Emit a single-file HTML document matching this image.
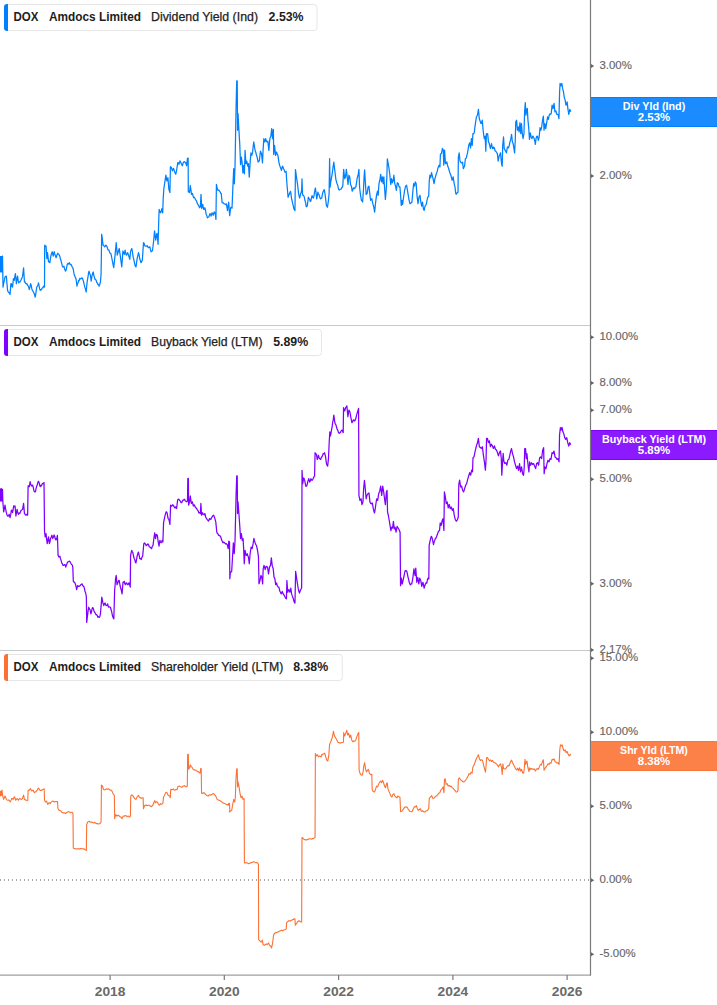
<!DOCTYPE html>
<html lang="en"><head><meta charset="utf-8"><title>DOX Amdocs Limited - Yields</title>
<style>
html,body{margin:0;padding:0;background:#fff;}
body{width:717px;height:1005px;overflow:hidden;font-family:"Liberation Sans",Arial,sans-serif;}
svg{display:block;}
text{font-family:"Liberation Sans",Arial,sans-serif;}
.al{font-size:11.4px;fill:#666666;stroke:#666666;stroke-width:0.15px;}
.yr{font-size:11.9px;font-weight:bold;fill:#6a6a6a;}
.lg{font-size:12.3px;fill:#222;stroke:#222;stroke-width:0.25px;}
.lgb{font-size:12.3px;font-weight:bold;fill:#1d1d1d;}
.tag{font-size:11px;font-weight:bold;fill:#fff;text-anchor:middle;}
</style></head><body>
<svg width="717" height="1005" viewBox="0 0 717 1005">
<rect width="717" height="1005" fill="#fff"/>
<line x1="0" y1="325.5" x2="590" y2="325.5" stroke="#c8c8c8" stroke-width="1"/>
<line x1="0" y1="650.5" x2="590" y2="650.5" stroke="#c8c8c8" stroke-width="1"/>
<line x1="0" y1="880" x2="590" y2="880" stroke="#555" stroke-width="1" stroke-dasharray="1 3"/>
<path d="M0,256.07 L0.33,271.97 L0.67,256.9 L1,271.13 L1.34,256.57 L1.67,271.97 L2.01,256.9 L2.51,256.07 L3.01,287.03 L3.68,283.21 L4.35,280.42 L5.02,276.99 L5.69,276.34 L6.36,276.15 L7.53,290.38 L8.16,291.61 L8.79,292.7 L9.41,292.73 L10.04,294.56 L10.88,283.68 L11.44,283.92 L11.99,286.52 L12.55,287.03 L13.39,278.66 L14.23,280.33 L14.82,276.55 L15.4,273.64 L16.4,283.68 L16.98,279.44 L17.57,276.15 L18.16,280.39 L18.74,282.85 L19.47,281.96 L20.19,281.78 L20.92,280.33 L21.48,278.89 L22.03,277.79 L22.59,276.15 L23.6,267.78 L24.44,282.01 L25.03,281.8 L25.61,283.09 L26.2,283.92 L26.78,283.68 L27.34,284.56 L27.89,285.79 L28.45,286.19 L29.29,289.54 L29.96,286.92 L30.63,283.68 L31.21,285.41 L31.8,288.7 L32.36,290.28 L32.91,291.1 L33.47,292.05 L34.03,293.37 L34.59,294.55 L35.15,297.07 L35.71,294.38 L36.26,290.33 L36.82,287.03 L37.38,286.03 L37.93,284.93 L38.49,282.85 L39.05,285.75 L39.61,288.63 L40.17,290.38 L40.73,289.63 L41.28,289.8 L41.84,288.7 L42.4,287.76 L42.95,287.81 L43.51,286.19 L44.52,287.03 L44.69,245.19 L45.36,246.29 L46.03,246.03 L46.86,258.58 L47.53,252.72 L48.54,261.92 L49.2,261.62 L49.87,262.76 L50.46,258.34 L51.05,255.23 L51.63,253.05 L52.22,251.88 L53.22,256.07 L54.23,251.55 L54.84,254.45 L55.46,255.56 L56.07,257.74 L56.63,256.46 L57.18,254.37 L57.74,253.22 L58.3,253.9 L58.85,254.35 L59.41,255.23 L59.97,256.91 L60.53,259.29 L61.09,261.09 L61.65,263.19 L62.2,265.72 L62.76,266.95 L63.34,266.86 L63.93,266.11 L64.49,268.56 L65.05,270.1 L65.61,271.13 L66.17,269.78 L66.72,266.98 L67.28,264.44 L68.01,263.27 L68.73,263.97 L69.46,262.76 L70.02,264.16 L70.57,264.61 L71.13,264.44 L71.69,265.68 L72.24,267.05 L72.8,267.78 L73.36,269.77 L73.92,273.4 L74.48,275.31 L75.04,276.84 L75.59,277.72 L76.15,279.5 L76.99,286.19 L77.55,283.45 L78.1,282.92 L78.66,280.33 L79.22,280.65 L79.77,278.48 L80.33,278.66 L80.89,278.92 L81.45,277.94 L82.01,277.82 L82.57,278.59 L83.12,280.24 L83.68,282.01 L84.24,284.72 L84.8,287.14 L85.36,288.7 L86.19,292.05 L86.78,285.37 L87.36,280.33 L87.92,277.47 L88.48,273.38 L89.04,271.13 L89.71,273.61 L90.38,275.31 L91.21,281.17 L92.05,275.31 L92.63,273.34 L93.22,271.97 L93.89,275.58 L94.56,277.82 L95.12,279.52 L95.67,279.5 L96.23,280.33 L96.79,282.62 L97.35,282.78 L97.91,284.52 L98.5,284.59 L99.08,286.19 L99.75,284.28 L100.42,282.01 L101.09,273.64 L101.67,234.25 L102.34,238.85 L103.01,245.13 L103.57,245.14 L104.13,246.08 L104.69,246.8 L105.28,246.16 L105.86,245.13 L106.42,245.62 L106.97,246.53 L107.53,248.47 L108.09,249.97 L108.65,249.81 L109.21,250.98 L109.77,252.64 L110.32,253.37 L110.88,253.49 L111.44,256.06 L111.99,259 L112.55,261.86 L113.13,264.83 L113.72,267.72 L115.06,255.17 L116.23,242.62 L117.24,255.17 L117.82,253.33 L118.41,250.98 L119.25,248.47 L119.84,252.83 L120.42,256.84 L121.09,261.97 L121.76,266.88 L122.93,250.98 L123.6,252.87 L124.27,254.33 L125.1,250.15 L125.77,253.45 L126.44,255.17 L127.03,253.93 L127.62,252.66 L128.2,254.21 L128.79,256 L129.79,259.35 L130.63,250.98 L131.22,250.12 L131.8,248.47 L132.47,252.18 L133.14,256.84 L133.89,259.83 L134.64,263.54 L135.31,266.07 L135.98,266.88 L136.56,262.73 L137.15,258.51 L137.82,255.67 L138.49,252.66 L139.08,254.71 L139.67,258.51 L140.33,260.45 L141,262.7 L141.67,261.59 L142.34,260.19 L143.51,242.62 L144.18,243.43 L144.85,245.96 L145.52,246.17 L146.19,246.2 L146.86,245.96 L147.42,245.73 L147.98,247.31 L148.54,247.64 L149.2,247.16 L149.87,246.8 L150.46,249.63 L151.05,251.82 L151.72,251.13 L152.38,250.98 L152.97,246.75 L153.56,241.78 L154.56,230.9 L155.14,235.93 L155.73,240.1 L156.31,235.89 L156.9,233.41 L157.49,238.06 L158.08,244.29 L158.85,216.95 L159.18,209.41 L159.85,211.4 L160.52,212.76 L161.19,211.5 L161.86,208.58 L162.7,212.76 L163.2,198.54 L163.87,188.49 L164.87,181.8 L165.88,175.1 L166.88,180.96 L167.89,177.62 L168.89,189.33 L169.9,192.68 L170.4,166.74 L171.4,167.57 L172.41,170.92 L173,169.22 L173.58,168.41 L174.58,171.76 L175.17,172.94 L175.75,174.27 L176.33,171.51 L176.92,168.41 L177.76,162.55 L178.34,163.07 L178.93,164.23 L179.94,160.88 L180.53,161.89 L181.11,163.39 L181.69,164.31 L182.28,165.9 L183.28,162.55 L183.87,161.9 L184.46,161.72 L185.05,162.31 L185.63,162.55 L186.63,165.9 L187.47,158.37 L188.14,158.03 L188.31,191.84 L188.89,191.9 L189.48,192.68 L190.31,185.48 L190.9,189.69 L191.49,194.35 L192.49,193.51 L193.07,196.1 L193.66,197.7 L194.33,197.27 L195,198.54 L195.75,199.92 L196.51,201.05 L197.18,203.14 L197.85,204.39 L198.41,205.16 L198.96,206.12 L199.52,207.74 L200.36,206.9 L201.03,194.35 L201.69,208.58 L202.7,204.39 L203.7,209.41 L204.28,209.12 L204.87,207.74 L205.54,210.62 L206.21,214.44 L206.8,215.55 L207.38,217.78 L208.05,217.25 L208.72,216.95 L209.31,215.63 L209.9,213.6 L210.49,214.14 L211.07,216.11 L212.07,212.76 L212.66,213.69 L213.24,215.27 L214.25,211.92 L214.83,212.88 L215.42,214.44 L215.92,219.46 L216.42,184.31 L217.43,189.33 L218.1,190.35 L218.77,190.17 L219.44,190.89 L220.1,191.84 L220.69,193.31 L221.28,193.51 L222.11,202.72 L222.67,202.4 L223.23,202.99 L223.79,203.56 L224.39,204 L225,203.89 L225.67,204.58 L226.34,203.89 L226.93,207.15 L227.51,210.59 L228.09,205.91 L228.68,202.22 L229.69,215.61 L230.28,210.74 L230.86,207.24 L231.44,207.71 L232.03,208.08 L233.03,183.81 L233.7,168.74 L234.37,183.81 L235.04,165.4 L235.54,136.95 L236.05,108.49 L236.72,80.88 L237.22,80.88 L237.55,130.25 L238.05,113.51 L238.72,126.9 L239.73,143.64 L240.56,164.56 L241.4,157.03 L242.24,163.72 L242.91,172.93 L243.74,165.4 L244.41,173.77 L245.08,150.33 L245.92,163.72 L246.76,161.21 L247.76,166.23 L248.43,163.72 L249.27,177.11 L250.1,162.89 L250.94,152.85 L251.78,155.36 L252.62,152.01 L253.2,146.43 L253.79,141.97 L254.79,148.66 L255.38,151.31 L255.96,152.85 L256.55,155.55 L257.13,157.03 L258.14,162.05 L258.73,161.06 L259.31,161.21 L259.89,155.79 L260.48,151.17 L261.49,153.68 L262.49,162.89 L263.16,148.66 L263.83,138.62 L264.83,141.97 L265.67,138.62 L266.25,140.85 L266.84,141.97 L267.85,141.13 L268.85,150.33 L269.85,138.62 L270.86,136.11 L271.69,128.58 L272.53,138.62 L273.37,129.41 L273.7,154.52 L274.54,145.31 L275.54,155.36 L276.55,152.01 L277.22,153.94 L277.89,155.36 L278.89,162.05 L279.56,165.11 L280.23,167.07 L280.81,168.47 L281.4,170.42 L282.41,166.23 L283,166.82 L283.58,168.74 L284.25,170.04 L284.92,172.09 L285.5,172.2 L286.09,171.26 L286.92,183.81 L288.1,197.2 L288.77,195.11 L289.44,193.85 L290.02,192.32 L290.61,191.34 L291.61,198.87 L292.19,201.23 L292.78,203.89 L293.37,206.26 L293.95,208.91 L294.96,210.59 L295.46,169.58 L296.46,177.11 L297.47,183.81 L298.06,188.67 L298.64,193.85 L299.64,198.03 L300.65,193.85 L301.65,190.5 L301.99,178.79 L302.49,193.85 L303.08,195.44 L303.66,195.52 L304.33,197.41 L305,200.54 L305.59,202.58 L306.17,206.4 L306.75,206.78 L307.34,205.56 L308.35,197.2 L308.94,198.72 L309.52,198.87 L310.11,201 L310.69,201.38 L311.36,198.33 L312.03,195.52 L312.7,197.59 L313.37,198.03 L313.96,195.87 L314.54,192.18 L315.38,187.99 L316.05,192.93 L316.72,198.87 L317.31,195.97 L317.89,192.18 L318.48,194.04 L319.06,194.69 L319.73,197.07 L320.4,198.87 L321.07,198.48 L321.74,198.03 L322.33,194.73 L322.91,192.18 L323.58,190.64 L324.25,189.67 L324.84,192.94 L325.42,197.2 L326.42,205.56 L327.43,207.24 L328.43,200.54 L329.1,193.85 L329.6,158.7 L330.1,187.15 L330.69,182.19 L331.28,178.79 L331.87,175.6 L332.45,172.09 L333.12,166.69 L333.79,162.05 L334.79,170.42 L335.79,178.79 L336.46,181.86 L337.13,183.81 L337.8,185.5 L338.47,188.83 L339.14,189.98 L339.81,189.67 L340,189.46 L340.56,189.25 L341.11,189.1 L341.67,187.78 L342.26,187.24 L342.85,185.27 L343.68,169.37 L344.69,178.58 L345.52,176.9 L346.36,169.37 L347.2,176.9 L348.03,184.44 L348.87,175.23 L349.71,176.9 L350.54,184.44 L351.38,186.11 L352.22,191.13 L352.81,190.17 L353.39,187.78 L354.06,188.34 L354.73,188.62 L355.31,186.91 L355.9,186.95 L356.49,183.21 L357.07,178.58 L358.08,175.23 L358.91,169.37 L359.58,186.95 L360.42,194.48 L361.42,200.33 L362,200.58 L362.59,202.01 L363.43,190.29 L364.1,176.9 L364.6,169.87 L365.44,183.6 L366.11,194.48 L367.11,193.64 L368.12,186.95 L368.95,186.11 L369.79,193.64 L370.63,200.33 L371.22,199.13 L371.8,198.66 L372.8,203.68 L373.81,207.03 L374.64,212.05 L375.48,203.68 L376.49,195.31 L377.49,191.13 L378.16,195.31 L379,183.6 L379.83,180.25 L380.67,174.39 L381.51,181.92 L382.34,176.9 L383.18,183.6 L383.85,176.9 L384.52,186.95 L385.36,199.5 L386.19,190.29 L386.86,176.9 L387.36,158.83 L388.2,163.51 L389.04,168.54 L389.87,175.23 L390.71,184.44 L391.55,178.58 L392.38,182.76 L393.22,180.25 L393.89,175.23 L394.73,183.6 L395.56,186.11 L396.4,190.29 L397.24,182.76 L398.24,183.6 L399.08,186.95 L399.92,186.95 L400.59,195.31 L401.26,205.36 L401.92,200.33 L402.59,204.52 L403.6,196.99 L404.6,190.29 L405.61,186.11 L406.61,185.27 L407.45,190.29 L408.28,195.31 L409.12,200.33 L409.96,203.68 L410.54,203.56 L411.13,202.85 L411.97,202.01 L412.8,191.97 L413.64,183.6 L414.48,186.11 L415.31,181.92 L416.15,183.6 L416.99,195.31 L417.99,203.68 L419,196.99 L420,195.31 L420.84,202.01 L421.67,206.19 L422.51,202.01 L423.35,208.7 L424.18,210.38 L425.02,206.19 L425.61,205.4 L426.19,204.52 L427.03,200.33 L427.87,196.99 L428.7,196.15 L429.21,181.92 L429.87,175.23 L430.71,177.74 L431.55,172.72 L432.38,176.07 L433.22,179.41 L434.06,183.6 L434.9,178.58 L435.9,175.23 L436.49,173.4 L437.07,171.88 L438.08,167.7 L439.08,165.19 L439.92,166.86 L440.42,154.31 L441.42,153.47 L442.43,148.45 L443.26,150.13 L443.77,165.19 L444.6,150.13 L445.44,163.51 L446.11,163.47 L446.78,161.84 L447.37,164.55 L447.95,166.86 L448.53,168.25 L449.12,170.21 L450.13,173.56 L450.72,174.78 L451.3,176.9 L452.13,180.25 L453.14,176.9 L454.14,183.6 L455,187.15 L455.84,193.85 L456.42,194.08 L457.01,193.01 L458.01,192.18 L458.35,157.03 L459.18,152.85 L460.02,161.21 L460.69,162.01 L461.36,162.89 L461.94,162.98 L462.53,162.05 L463.37,168.74 L463.96,167.22 L464.54,166.23 L465.38,158.7 L466.38,157.87 L466.97,154.82 L467.55,152.85 L468.13,149.14 L468.72,145.31 L469.73,142.8 L470.56,147.82 L471.4,138.62 L472.24,145.31 L472.91,133.6 L473.58,133.75 L474.25,132.76 L474.84,127.57 L475.42,123.56 L476.42,116.86 L477,116.13 L477.59,114.35 L478.43,109.33 L479.27,118.54 L480.1,121.05 L480.69,123.06 L481.28,123.56 L482.28,120.21 L483.12,130.25 L483.71,134.99 L484.29,138.62 L485.13,136.11 L485.79,151.17 L486.46,133.6 L487.05,134.18 L487.64,133.6 L488.47,141.97 L489.06,142.75 L489.64,145.31 L490.48,148.66 L491.49,143.64 L492.08,146.38 L492.66,148.66 L493.25,148.48 L493.83,146.99 L494.5,148.27 L495.17,151.17 L495.75,151.18 L496.34,152.01 L497.34,153.68 L498.18,161.21 L498.76,157.87 L499.35,155.36 L499.94,154.15 L500.52,152.85 L501.53,163.72 L502.2,166.23 L502.7,145.31 L503.54,136.95 L504.21,148.66 L505.21,150.33 L505.79,151.45 L506.38,152.85 L507.38,146.99 L507.97,147.36 L508.56,147.82 L509.14,145.81 L509.73,142.8 L510.73,139.46 L511.57,134.44 L512.41,141.97 L513,143.16 L513.58,146.15 L514.58,152.85 L515.25,140.29 L515.75,121.88 L516.59,120.21 L517.43,130.25 L518.26,126.9 L519.1,131.92 L519.94,122.72 L520.77,133.6 L521.44,123.56 L522.28,133.6 L523.12,138.62 L523.95,133.6 L524.62,111.84 L525.29,102.64 L525.96,115.19 L526.63,109.33 L527.3,108.49 L527.97,120.21 L528.64,126.9 L529.48,139.46 L530.31,132.76 L531.15,136.95 L531.99,138.62 L532.58,136.56 L533.16,136.11 L534.16,138.62 L534.75,140.88 L535.33,144.48 L536.17,137.78 L536.75,136.27 L537.34,136.11 L538.35,140.29 L539.18,136.95 L540.02,127.74 L540.86,130.25 L541.69,126.9 L542.53,120.21 L543.37,116.03 L544.04,130.25 L544.87,123.56 L545.71,128.58 L546.72,122.72 L547.55,116.86 L548.39,119.37 L549.23,115.19 L549.82,113.99 L550.4,114.35 L551.23,113.51 L552.07,105.15 L553.08,108.49 L554.08,103.47 L554.92,111.84 L555.92,111 L556.5,113.53 L557.09,114.35 L558.1,114.35 L558.93,118.54 L559.6,91.76 L560.1,83.39 L560.94,85.9 L561.78,83.39 L562.62,88.41 L563.45,91.76 L564.29,97.62 L565.13,100.13 L565.96,105.15 L566.55,104.11 L567.13,101.8 L567.97,109.33 L568.81,114.35 L569.81,109.33 L570.82,111.84" fill="none" stroke="#0080ff" stroke-width="1.25" stroke-linejoin="round"/>
<path d="M0,488.41 L0.33,500.96 L0.67,489.25 L1,500.96 L1.34,488.74 L1.67,500.96 L2.01,489.25 L2.51,489.25 L2.85,501.8 L3.68,511.84 L4.35,508.72 L5.02,505.15 L5.61,508.93 L6.19,511.84 L6.86,514.47 L7.53,516.03 L8.09,516.27 L8.65,515.34 L9.21,514.35 L10.04,517.7 L10.71,514.7 L11.38,510.17 L11.96,510.58 L12.55,512.68 L13.14,509.27 L13.72,505.98 L14.39,506.78 L15.06,505.98 L15.9,516.03 L16.48,512.95 L17.07,509.33 L17.74,512.56 L18.41,514.35 L19.08,513.23 L19.75,513.51 L20.31,512.34 L20.86,510.83 L21.42,510.17 L22.01,509.83 L22.59,509.33 L23.6,503.47 L24.44,513.51 L25.19,514.48 L25.94,515.19 L26.5,514.31 L27.06,514.68 L27.62,515.19 L28.12,485.9 L28.7,485.92 L29.29,486.74 L30.13,481.72 L30.8,484.56 L31.46,485.9 L32.05,485.96 L32.64,485.06 L33.3,487.38 L33.97,490.92 L34.72,491.87 L35.48,491.76 L36.15,488.18 L36.82,485.9 L37.38,484.6 L37.93,482.21 L38.49,481.38 L39.16,482.74 L39.83,485.9 L40.39,486.57 L40.95,485.38 L41.51,485.9 L42.09,484.13 L42.68,483.39 L43.35,483.84 L44.02,482.55 L44.52,531.09 L45.19,536.95 L46.03,533.6 L46.62,539.29 L47.2,543.64 L47.87,539.92 L48.54,536.95 L49.37,543.64 L49.95,541.96 L50.54,538.62 L51.21,537.02 L51.88,535.27 L52.72,538.62 L53.39,537.1 L54.06,534.94 L54.64,536.25 L55.23,538.62 L55.9,539.83 L56.57,539.46 L57.41,535.27 L58.08,555.36 L58.91,557.03 L59.92,556.19 L60.51,558.63 L61.09,560.38 L61.67,562.89 L62.26,563.72 L62.93,565.27 L63.6,565.4 L64.27,564.62 L64.94,564.56 L65.77,567.07 L66.36,565.15 L66.95,563.72 L67.51,562.45 L68.06,561.75 L68.62,561.72 L69.18,561.05 L69.73,561.58 L70.29,562.05 L70.96,563.49 L71.63,564.56 L72.22,564.92 L72.8,567.07 L73.31,581.3 L73.9,582.04 L74.48,582.13 L75.15,583.51 L75.82,585.48 L76.65,589.67 L77.23,587.23 L77.82,585.48 L78.49,586.47 L79.16,586.32 L79.75,585.87 L80.33,585.48 L80.89,584.59 L81.45,584.33 L82.01,583.81 L82.68,585.43 L83.35,586.32 L83.94,586.78 L84.52,588.83 L85.1,591.78 L85.69,593.01 L86.36,597.2 L86.69,622.3 L87.53,615.61 L88.12,610.57 L88.7,607.24 L89.37,608.94 L90.04,609.75 L90.88,613.93 L91.47,612.04 L92.05,608.91 L92.63,607.63 L93.22,608.08 L93.89,610.69 L94.56,612.26 L95.12,612.86 L95.67,614.07 L96.23,614.77 L96.79,614.72 L97.35,615.63 L97.91,617.28 L98.58,616.71 L99.25,617.28 L99.84,616.42 L100.42,613.93 L101.26,603.89 L101.76,597.2 L102.76,602.22 L103.77,605.56 L104.44,603.76 L105.1,603.05 L105.69,604.77 L106.28,605.56 L106.95,605.5 L107.62,603.89 L108.21,606.36 L108.79,607.24 L109.35,606.96 L109.9,606.98 L110.46,607.24 L111.13,609.79 L111.8,612.26 L112.38,615.27 L112.97,617.28 L113.81,618.95 L114.64,590.5 L115.48,580.46 L115.52,578.81 L116.19,575.46 L117.03,584.67 L118.03,582.15 L118.62,580.61 L119.21,580.48 L120.04,585.5 L120.62,588.04 L121.21,589.69 L122.05,593.87 L123.05,582.15 L123.64,582.27 L124.23,581.32 L124.81,583.64 L125.4,584.67 L126.07,583 L126.74,582.99 L127.41,584.63 L128.08,584.67 L128.67,583.09 L129.25,582.99 L130.25,587.18 L130.59,555.38 L131.18,552.58 L131.76,550.36 L132.34,551.81 L132.93,552.87 L133.6,556.55 L134.27,558.72 L134.83,559.83 L135.38,562.28 L135.94,562.91 L136.53,559.64 L137.11,556.21 L137.78,553.78 L138.45,552.03 L139.12,555.05 L139.79,558.72 L140.55,558.56 L141.3,559.56 L141.97,557.13 L142.64,556.21 L143.81,543.66 L144.48,543.03 L145.15,543.66 L145.71,544.56 L146.26,545.67 L146.82,545.33 L147.38,544.44 L147.93,543.96 L148.49,544.5 L149.16,546.63 L149.83,547.01 L150.39,547.63 L150.95,547.95 L151.51,548.68 L152.26,546.53 L153.01,545.33 L153.85,538.64 L154.69,532.78 L155.52,538.64 L156.36,534.46 L157.36,535.29 L158.2,541.99 L159.04,546.17 L159.87,540.31 L160.46,541.73 L161.05,542.82 L161.63,542.15 L162.22,540.31 L162.89,541.99 L163.56,522.74 L164.23,519.32 L164.9,516.05 L165.49,513.81 L166.07,511.86 L166.66,511.9 L167.24,513.54 L168.08,518.56 L168.91,519.39 L169.92,524.41 L170.59,505.17 L171.25,506.33 L171.92,506 L172.59,504.74 L173.26,505.17 L173.93,506.41 L174.6,507.68 L175.19,507.87 L175.77,506.84 L176.61,508.51 L177.62,500.15 L178.28,499.07 L178.95,499.31 L179.62,500.56 L180.29,500.98 L180.96,502.63 L181.63,502.66 L182.22,501.64 L182.8,500.15 L183.47,500.25 L184.14,499.31 L184.72,499.44 L185.31,500.98 L185.98,501.28 L186.65,501.82 L187.49,500.98 L187.82,478.39 L188.33,478.39 L188.66,505.17 L189.67,500.98 L190.33,495.96 L191.34,503.49 L192.34,501.82 L193.35,506 L193.94,504.95 L194.52,505.17 L195.19,507.05 L195.86,507.68 L196.44,508.15 L197.03,509.35 L197.62,510.11 L198.2,511.03 L198.78,512.76 L199.37,512.7 L200.38,513.54 L200.88,503.49 L201.55,515.21 L202.55,512.7 L203.13,514.17 L203.72,514.37 L204.31,514.81 L204.9,513.54 L205.9,517.72 L206.49,518.47 L207.07,519.39 L207.74,520.21 L208.41,521.07 L209,520.23 L209.58,518.56 L210.25,518.94 L210.92,519.39 L211.5,517.76 L212.09,516.88 L212.76,515.87 L213.43,515.21 L214.01,515.83 L214.6,517.72 L215.19,519.59 L215.77,521.9 L216.78,531.95 L217.37,533.66 L217.95,533.62 L218.53,535.28 L219.12,535.29 L219.79,535.94 L220.46,536.13 L221.13,538.22 L221.8,540.31 L222.38,541.27 L222.97,542.82 L223.53,542.08 L224.08,542.41 L224.64,542.82 L225.2,543.61 L225.76,544.04 L226.32,543.66 L226.91,544.25 L227.49,545.33 L228.16,548.68 L228.83,541.15 L229.5,541.99 L229.83,578.81 L230.36,572.13 L231.03,572.23 L231.69,571.3 L232.53,557.07 L233.37,542.85 L234.21,553.72 L235.04,540.33 L235.54,518.58 L236.05,495.98 L236.72,475.9 L237.22,475.9 L237.55,513.56 L238.05,501.84 L238.89,513.56 L239.73,525.27 L240.56,538.66 L241.4,533.64 L242.24,540.33 L243.08,538.66 L243.74,550.38 L244.25,563.77 L245.08,550.38 L245.67,553.38 L246.26,555.4 L247.26,553.72 L247.84,555.75 L248.43,557.07 L249.27,563.77 L250.1,553.72 L251.11,547.03 L252.11,548.7 L253.12,543.68 L253.95,538.33 L254.54,540.89 L255.13,542.85 L255.79,544.57 L256.46,545.36 L257.05,548.04 L257.64,551.21 L258.47,557.07 L258.97,583.85 L259.56,582.13 L260.15,579.67 L260.98,575.48 L261.82,577.15 L262.66,583.85 L263.16,568.79 L264,565.44 L264.59,567.14 L265.17,569.62 L266.17,566.28 L266.84,566.67 L267.51,567.11 L268.51,573.81 L269.52,567.11 L270.52,565.44 L271.36,557.91 L272.2,565.44 L273.2,568.79 L274.04,577.15 L274.87,578.83 L275.71,584.69 L276.55,583.01 L277.13,585.17 L277.72,586.36 L278.31,587.12 L278.89,587.2 L279.9,591.38 L280.49,592.26 L281.07,593.89 L281.65,593.44 L282.24,591.38 L283.24,593.89 L283.83,594.99 L284.41,595.56 L285,596.97 L285.59,598.08 L286.42,598.91 L286.92,580.5 L287.76,592.22 L288.35,590.09 L288.93,589.71 L289.94,592.22 L290.77,588.03 L291.61,593.89 L292.19,595.65 L292.78,597.24 L293.37,598.88 L293.95,601.42 L294.96,603.1 L295.63,571.3 L296.46,577.15 L297.47,583.85 L298.06,587.5 L298.64,590.54 L299.48,593.05 L300.06,591.31 L300.65,589.71 L301.65,588.03 L302.03,470.31 L302.7,483.7 L303.7,477.85 L304.71,480.36 L305.71,486.21 L306.72,486.21 L307.72,482.03 L308.72,478.68 L309.73,482.03 L310.31,480.93 L310.9,478.68 L311.49,479.79 L312.07,480.36 L312.74,479.64 L313.41,477.85 L314,476.74 L314.58,476.17 L315.08,452.74 L315.75,453.83 L316.42,454.41 L317.26,459.44 L317.85,457.77 L318.43,455.25 L319.01,457.52 L319.6,458.6 L320.61,459.44 L321.19,457.91 L321.78,456.92 L322.45,455.87 L323.12,453.58 L323.79,453.83 L324.46,452.74 L325.46,456.09 L326.46,463.62 L327.05,465.21 L327.64,466.13 L328.47,458.6 L329.14,443.54 L329.81,431.82 L330.48,436 L331.49,430.15 L332.08,427.24 L332.66,422.62 L333.25,419.67 L333.83,415.08 L334.83,422.62 L335.41,423.91 L336,425.13 L336.59,427.27 L337.18,429.31 L337.85,430.38 L338.51,432.66 L339.18,433.27 L339.85,432.66 L340.44,432.61 L341.03,430.98 L341.62,430.52 L342.2,430.15 L343.2,432.66 L343.54,407.55 L344.12,409.57 L344.71,410.9 L345.71,407.55 L346.29,407.11 L346.88,405.88 L347.89,416.76 L348.89,410.06 L349.9,411.74 L350.9,417.59 L351.9,422.62 L352.57,421.77 L353.24,420.1 L353.83,419.93 L354.41,420.94 L355,420.61 L355.59,419.27 L356.59,415.08 L357.59,411.74 L358.6,408.39 L358.93,495.42 L359.94,500.44 L360.52,499.75 L361.11,498.77 L361.95,504.62 L362.95,502.11 L363.62,488.72 L364.46,480.36 L365.29,488.72 L366.13,498.77 L366.97,495.42 L367.97,493.74 L368.97,492.91 L369.98,502.11 L370.56,503.25 L371.15,503.79 L371.74,503.23 L372.32,502.95 L373.33,508.81 L373.91,511.12 L374.5,512.99 L375.09,509.72 L375.67,505.46 L376.67,498.77 L377.68,500.44 L378.68,493.74 L379.69,491.23 L380.69,486.21 L381.69,495.42 L382.7,486.21 L383.7,492.07 L384.54,498.77 L385.38,504.62 L386.38,492.07 L387.05,490.4 L387.55,512.15 L388.39,515.5 L389.23,520.52 L390.06,525.54 L390.9,530.56 L391.74,527.22 L392.57,528.05 L393.41,521.36 L394.25,528.89 L395.08,527.22 L396.09,532.24 L397.09,526.38 L398.1,528.05 L399.1,529.73 L400.1,532.24 L400.54,585.65 L401.38,578.12 L402.22,583.97 L402.81,581.71 L403.39,578.95 L404.06,576 L404.73,572.26 L405.31,570.57 L405.9,570.59 L406.49,570.81 L407.07,572.26 L408.08,577.28 L408.66,579.68 L409.25,582.3 L409.84,583.83 L410.42,584.81 L411.09,583.88 L411.76,583.97 L412.35,580.96 L412.93,577.28 L413.93,568.91 L414.51,572.5 L415.1,575.61 L415.77,568.08 L416.78,582.3 L417.78,577.28 L418.79,583.97 L419.79,578.12 L420.79,580.63 L421.8,586.49 L422.38,583.57 L422.97,582.3 L423.56,585.18 L424.14,588.16 L424.81,585.57 L425.48,583.97 L426.15,582.75 L426.82,583.14 L427.4,579.97 L427.99,578.12 L428.83,578.95 L429.16,545.48 L430.17,540.46 L430.75,538.04 L431.34,536.28 L431.92,537.38 L432.51,539.62 L433.51,544.64 L434.1,542 L434.69,540.46 L435.36,538.37 L436.03,537.95 L436.69,536.21 L437.36,534.6 L437.95,532.71 L438.54,531.26 L439.54,530.42 L440.21,522.89 L441.21,525.4 L442.22,520.38 L443.05,518.7 L443.89,530.42 L444.39,491.92 L445.23,496.11 L446.23,503.64 L447.24,501.97 L448.24,507.82 L449.25,504.48 L450.25,508.66 L451.26,506.99 L452.26,510.33 L453.26,508.66 L454.27,515.36 L455.27,519.54 L456.28,521.21 L456.87,520.58 L457.45,519.54 L458.28,517.03 L458.79,484.39 L459.62,480.21 L460.63,486.9 L461.63,486.07 L462.64,490.25 L463.64,491.92 L464.64,488.58 L465.65,485.23 L466.65,483.56 L467.66,479.37 L468.66,476.03 L469.67,472.68 L470.67,475.19 L471.67,470.17 L472.51,471.84 L473.01,457.62 L474.02,456.78 L475.02,451.76 L475.61,449.41 L476.19,446.74 L476.77,444.59 L477.36,443.39 L478.37,438.37 L479.37,446.74 L480.38,447.57 L481.38,448.41 L482.38,446.74 L483.39,455.1 L484.39,461.8 L485.4,470.17 L486.07,459.29 L486.57,438.37 L487.41,438.37 L488.41,442.55 L489.41,440.88 L490.42,446.74 L491.42,444.23 L492.43,445.9 L493.43,448.41 L494.44,445.9 L495.44,449.25 L496.44,450.08 L497.45,452.59 L498.45,455.94 L499.46,452.59 L500.46,450.92 L501.3,458.45 L501.8,475.19 L502.47,463.47 L503.14,453.43 L503.81,460.96 L504.81,463.47 L505.82,462.64 L506.82,465.15 L507.82,460.13 L508.83,459.29 L509.83,455.1 L510.5,451.88 L511.51,448.54 L512.51,453.56 L513.51,456.9 L514.52,461.92 L515.52,465.27 L516.53,468.62 L517.53,466.11 L518.54,470.29 L519.54,463.6 L520.54,471.97 L521.55,466.95 L522.55,473.64 L523.56,475.31 L524.23,466.95 L524.73,448.54 L525.56,448.54 L526.23,458.58 L526.9,453.56 L527.57,460.25 L528.24,466.95 L528.91,471.97 L529.58,461.92 L530.59,465.27 L531.59,462.76 L532.59,464.44 L533.6,463.6 L534.6,466.11 L535.61,468.62 L536.61,463.6 L537.62,462.76 L538.62,465.27 L539.62,457.74 L540.63,456.9 L541.63,458.58 L542.64,450.21 L543.64,447.7 L544.14,473.64 L544.98,466.95 L545.98,468.62 L546.99,463.6 L547.99,460.25 L549,461.92 L550,458.58 L551,459.41 L552.01,452.72 L553.01,453.56 L554.02,451.05 L555.02,456.9 L556.03,457.74 L557.03,459.41 L558.03,458.58 L559.04,461.92 L559.54,435.15 L560.38,427.62 L561.21,430.13 L562.05,427.28 L562.89,431.8 L563.72,433.47 L564.73,437.66 L565.73,439.33 L566.74,437.66 L567.74,442.68 L568.74,446.03 L569.75,442.68 L570.75,444.85" fill="none" stroke="#7f00ff" stroke-width="1.25" stroke-linejoin="round"/>
<path d="M0,791 L0.5,796.03 L1,791 L1.51,795.52 L2.01,790.17 L2.68,796.03 L3.68,799.37 L4.35,797.58 L5.02,796.03 L5.69,797.46 L6.36,799.37 L7.03,799.9 L7.7,800.21 L8.37,799.91 L9.04,800.21 L9.71,801.07 L10.38,801.88 L11.05,800.12 L11.72,798.54 L12.39,798.65 L13.05,799.37 L13.72,798.12 L14.39,796.86 L15.06,798.21 L15.73,800.21 L16.4,799.33 L17.07,798.54 L17.74,799.07 L18.41,800.21 L19.08,799.09 L19.75,798.54 L20.42,798.9 L21.09,799.37 L21.76,799.18 L22.43,798.54 L23.02,796.6 L23.6,795.19 L24.44,799.37 L25.19,799.6 L25.94,800.21 L26.55,800.3 L27.17,800.52 L27.78,800.21 L28.12,790.17 L28.7,790.22 L29.29,790.17 L29.88,789.26 L30.46,788.49 L31.13,790.08 L31.8,791 L32.47,790.27 L33.14,790.17 L33.81,791.68 L34.48,792.68 L35.15,792.11 L35.82,791.84 L36.48,790.76 L37.15,790.17 L37.82,788.9 L38.49,788.16 L39.16,789.03 L39.83,790.17 L40.39,790.5 L40.95,790.17 L41.51,790.5 L42.18,789.97 L42.85,789.33 L43.52,789.18 L44.18,788.83 L44.52,800.21 L45.52,801.88 L46.53,801.05 L47.12,802.63 L47.7,804.39 L48.28,803.59 L48.87,802.72 L49.54,802.83 L50.21,803.56 L50.88,802.41 L51.55,801.88 L52.22,801.26 L52.89,801.05 L53.56,801.59 L54.23,801.88 L54.89,801.66 L55.56,801.55 L56.23,801.42 L56.9,801.61 L57.57,801.55 L57.91,808.58 L58.91,810.25 L59.58,810.39 L60.25,810.59 L60.92,811.11 L61.59,811.92 L62.26,812.55 L62.93,812.76 L63.6,812.9 L64.27,812.76 L64.94,813 L65.61,813.6 L66.28,812.98 L66.95,812.26 L67.62,811.94 L68.28,811.59 L68.95,812.02 L69.62,811.92 L70.29,812.5 L70.96,812.76 L71.63,812.36 L72.3,812.26 L72.97,813.6 L73.31,847.91 L73.97,848.66 L74.64,848.74 L75.4,848.64 L76.15,849.08 L76.71,848.91 L77.26,849.03 L77.82,848.74 L78.38,848.61 L78.94,848.96 L79.5,849.08 L80.06,848.53 L80.61,848.75 L81.17,848.41 L81.73,848.71 L82.29,848.68 L82.85,848.74 L83.41,849.12 L83.96,848.84 L84.52,849.08 L85.1,849.72 L85.69,850.08 L86.36,850.42 L86.69,824.48 L87.7,821.97 L88.37,821.62 L89.04,821.13 L89.71,821.77 L90.38,822.3 L91.05,822.1 L91.72,821.97 L92.38,822.62 L93.05,822.8 L93.72,822.86 L94.39,822.3 L95.06,822.79 L95.73,823.31 L96.4,823.59 L97.07,823.64 L97.63,823.44 L98.18,824 L98.74,823.97 L99.41,823.74 L100.08,823.31 L101.09,821.97 L101.42,785.15 L102.43,785.98 L103.43,789.33 L104.1,789.93 L104.77,789.83 L105.44,789.56 L106.11,788.83 L106.78,788.93 L107.45,789.33 L108.12,789 L108.79,788.83 L109.4,789.64 L110,790.21 L110.67,789.88 L111.34,790.21 L112.34,791.88 L113.35,794.39 L114.35,795.23 L114.69,818.66 L115.69,814.48 L116.36,815.29 L117.03,816.15 L117.7,815.5 L118.37,815.31 L119.04,815.71 L119.71,816.65 L120.38,816.68 L121.05,817.32 L122.05,818.66 L123.05,816.15 L123.72,816.34 L124.39,816.15 L125.06,815.64 L125.73,815.65 L126.4,815.97 L127.07,816.65 L127.74,816.32 L128.41,816.15 L129.08,816.83 L129.75,816.99 L130.42,816.15 L130.75,796.07 L131.76,794.9 L132.43,795.19 L133.1,796.07 L133.77,797.12 L134.44,798.24 L135.11,798.86 L135.77,799.41 L136.44,798.42 L137.11,796.9 L137.78,796.29 L138.45,795.23 L139.12,796.74 L139.79,797.74 L140.46,797.83 L141.13,798.24 L141.8,797.93 L142.47,797.74 L143.14,797.74 L143.47,808.62 L144.14,806.85 L144.81,805.27 L145.48,805.37 L146.15,804.94 L146.82,805.6 L147.49,805.61 L148.16,805.2 L148.83,805.27 L149.5,805.46 L150.17,806.11 L150.84,806.17 L151.51,806.61 L152.18,805.75 L152.85,805.27 L153.85,802.76 L154.69,800.59 L155.52,802.76 L156.53,801.59 L157.53,802.26 L158.54,804.44 L159.54,805.27 L160.54,803.6 L161.55,804.44 L162.22,803.84 L162.89,803.26 L163.56,796.9 L164.23,795.71 L164.9,794.39 L165.49,793.14 L166.07,792.22 L166.66,792.37 L167.24,793.22 L168.24,795.56 L168.91,795.76 L169.58,796.07 L170.25,797.74 L170.75,789.37 L171.33,789.53 L171.92,789.87 L172.59,789.42 L173.26,788.87 L173.93,789.86 L174.6,790.21 L175.27,789.92 L175.94,789.37 L176.95,789.87 L177.95,786.53 L178.62,786.29 L179.29,786.03 L179.96,786.53 L180.63,786.86 L181.3,787.15 L181.97,787.2 L182.64,786.3 L183.31,786.03 L183.97,786.05 L184.64,785.52 L185.31,786.39 L185.98,786.86 L186.65,786.71 L187.32,786.03 L187.66,754.23 L188.33,754.23 L188.66,769.29 L189.67,767.62 L190.33,764.77 L191.34,766.78 L192.34,767.62 L193.35,769.79 L194.02,770 L194.69,769.79 L195.36,770.05 L196.03,770.46 L196.69,770.89 L197.36,771.46 L198.03,771.52 L198.7,772.13 L199.37,772.73 L200.04,773.14 L200.71,768.45 L201.21,768.45 L201.55,793.22 L202.22,793.08 L202.89,793.56 L203.47,792.84 L204.06,792.72 L204.73,793.35 L205.4,794.39 L206.07,794.74 L206.74,795.56 L207.41,795.7 L208.08,796.07 L208.75,795.17 L209.41,794.9 L210.08,794.72 L210.75,795.23 L211.42,794.57 L212.09,794.39 L212.76,793.7 L213.43,793.56 L214.1,794.13 L214.77,794.9 L215.44,795.57 L216.11,796.9 L217.11,799.41 L217.78,799.93 L218.45,799.92 L219.12,800.33 L219.79,800.59 L220.46,800.84 L221.13,801.59 L221.8,802 L222.47,802.76 L223.14,802.9 L223.81,803.26 L224.37,803.39 L224.92,803.44 L225.48,803.93 L226.04,804.34 L226.59,804.62 L227.15,804.44 L228.16,805.27 L228.83,803.26 L229.5,803.6 L229.83,811.97 L229.35,812.03 L230.36,811.19 L231.03,810.75 L231.69,810.36 L232.7,804.5 L233.7,799.48 L234.71,801.99 L235.38,796.97 L235.88,780.23 L236.72,768.85 L237.22,768.85 L237.55,786.92 L238.05,781.9 L239.06,786.92 L240.06,793.62 L241.07,797.8 L242.07,796.13 L243.08,799.48 L244.08,798.64 L244.41,863.05 L245.08,862.87 L245.75,862.72 L246.42,862.6 L247.09,863.05 L247.76,863.11 L248.43,863.72 L249.1,863.44 L249.77,863.39 L250.44,862.81 L251.11,862.55 L251.78,862.62 L252.45,862.22 L253.12,861.9 L253.79,862.05 L254.46,861.88 L255.13,862.38 L255.79,862.7 L256.46,862.38 L257.13,862.73 L257.8,863.05 L258.47,864.73 L258.64,939.54 L259.48,940.38 L260.48,941.72 L261.49,942.05 L262.32,940.04 L263.16,945.06 L263.83,944.98 L264.5,945.4 L265.17,944.76 L265.84,944.06 L266.51,943.98 L267.18,944.56 L267.85,943.74 L268.51,942.89 L269.52,945.4 L270.52,945.73 L271.53,947.91 L272.53,943.72 L273.54,935.36 L274.54,933.35 L275.21,933.18 L275.88,932.34 L276.55,932.59 L277.22,932.34 L277.89,932.14 L278.56,931.67 L279.23,931.25 L279.9,931.17 L280.56,930.66 L281.23,930.33 L281.9,930.27 L282.57,930.67 L283.24,930.53 L283.91,930 L284.58,929.77 L285.25,929.5 L286.26,929 L286.59,922.8 L287.59,921.63 L288.26,921.33 L288.93,920.63 L289.6,920.76 L290.27,921.13 L290.94,920.52 L291.61,920.29 L292.28,920.09 L292.95,919.46 L293.62,919.38 L294.29,918.62 L294.96,918.95 L295.29,925.31 L296.3,923.64 L296.97,922.88 L297.64,921.63 L298.31,921.34 L298.97,920.63 L299.64,921.35 L300.31,921.63 L300.98,921.97 L301.65,921.97 L301.99,837.47 L302.66,837.95 L303.33,838.81 L304,839.24 L304.67,839.64 L305.34,839.79 L306,840.15 L306.67,839.65 L307.34,839.81 L308.01,839.14 L308.68,839.14 L309.35,838.82 L310.02,838.81 L310.69,838.81 L311.36,839.14 L312.03,838.94 L312.7,838.47 L313.37,838.62 L314.04,838.14 L315.04,837.47 L315.38,753.45 L316.38,755.96 L317.38,754.79 L318.39,756.8 L319.06,756.34 L319.73,755.96 L320.4,756.69 L321.07,756.8 L322.07,754.29 L322.74,754.38 L323.41,753.79 L324.08,753.77 L324.75,753.12 L325.75,756.8 L326.76,760.15 L327.76,760.98 L328.77,755.96 L329.6,744.25 L330.44,742.57 L331.44,740.06 L332.45,736.72 L333.45,731.36 L334.46,735.88 L335.46,737.55 L336.13,738.71 L336.8,740.06 L337.47,741.12 L338.14,742.57 L338.81,742.63 L339.48,743.08 L340.15,742.87 L340.82,743.08 L341.49,742.62 L342.15,742.57 L342.82,742.41 L343.49,742.07 L343.7,732.55 L344.71,735.9 L345.71,733.39 L346.72,730.38 L347.72,735.06 L348.72,733.39 L349.73,737.57 L350.73,735.06 L351.74,740.08 L352.74,741.76 L353.74,740.92 L354.41,741.2 L355.08,740.92 L356.09,739.25 L357.09,735.9 L358.1,733.39 L358.77,732.55 L359.1,770.21 L360.1,773.56 L361.11,774.9 L362.11,775.23 L363.12,771.88 L363.79,766.03 L364.62,762.68 L365.46,768.54 L366.46,771.88 L367.47,770.21 L368.47,769.37 L369.48,773.56 L370.48,774.39 L371.15,774.63 L371.82,774.39 L372.15,789.46 L373.16,791.63 L373.83,791.79 L374.5,791.97 L375.5,789.46 L376.51,786.11 L377.51,786.95 L378.51,784.44 L379.52,782.26 L380.52,781.09 L381.53,782.76 L382.53,780.25 L383.54,782.76 L384.54,786.11 L385.54,787.78 L386.55,783.6 L387.22,782.76 L387.89,788.62 L388.89,791.13 L389.9,793.64 L390.9,796.15 L391.9,796.99 L392.91,794.48 L393.91,793.64 L394.92,796.15 L395.92,796.99 L396.92,797.82 L397.93,796.15 L398.93,796.65 L399.94,797.32 L400.61,811.72 L401.61,811.21 L402.62,810.38 L403.62,808.7 L404.62,807.36 L405.29,807.13 L405.96,806.69 L406.63,807.23 L407.3,807.36 L408.31,809.54 L408.98,810.08 L409.64,811.21 L410.31,811.58 L410.98,811.72 L411.65,811.75 L412.32,811.21 L413.33,808.7 L414.33,806.69 L415.33,807.03 L416.34,805.69 L417.34,808.7 L418.35,810.38 L419.35,809.54 L420.36,808.7 L421.36,811.21 L422.03,811.16 L422.7,810.71 L423.37,811.56 L424.04,812.05 L424.71,811.87 L425.38,811.72 L426.05,810.99 L426.72,810.71 L427.38,810.33 L428.05,809.54 L428.72,808.7 L429.23,798.66 L429.81,797.71 L430.4,796.99 L431.07,796.53 L431.74,795.65 L432.41,797.49 L433.08,798.66 L433.75,798.17 L434.41,797.82 L435.08,796.92 L435.75,796.15 L436.42,796.04 L437.09,795.31 L437.76,794.63 L438.43,793.64 L439.1,792.99 L439.77,792.8 L440.77,790.29 L441.44,789.19 L442.11,788.62 L443.12,786.95 L443.95,792.8 L444.46,779.41 L445.13,778.91 L446.13,784.44 L447.13,783.6 L448.14,786.11 L449.14,785.27 L450.15,786.61 L451.15,786.11 L452.15,787.78 L452.82,787.96 L453.49,788.62 L454.16,789.74 L454.83,790.29 L455,790.29 L456,791.97 L456.67,792.01 L457.34,791.63 L458.01,790.29 L458.35,779.41 L459.35,777.74 L460.36,779.41 L461.36,780.59 L462.03,780.84 L462.7,781.59 L463.37,781.98 L464.04,781.92 L464.71,781.42 L465.38,780.25 L466.05,779.53 L466.72,778.58 L467.38,777.22 L468.05,776.07 L469.06,773.56 L470.06,774.39 L471.07,772.22 L472.07,773.22 L472.74,767.7 L473.41,766.03 L474.41,764.35 L475.42,761 L476.42,758.49 L477.43,756.82 L478.43,754.81 L479.44,758.83 L480.44,760.5 L481.44,759.83 L482.45,760.17 L483.45,764.35 L484.46,768.54 L485.46,772.22 L486.13,765.19 L486.63,757.66 L487.47,757.66 L488.47,759.33 L489.48,761 L490.48,759.83 L491.49,761.51 L492.49,760.5 L493.49,762.18 L494.16,762.46 L494.83,762.68 L495.5,763.01 L496.17,763.85 L496.84,764.18 L497.51,765.19 L498.51,766.86 L499.52,764.85 L500.52,763.85 L501.53,767.7 L502.2,774.39 L502.87,763.85 L503.54,768.54 L504.54,768.87 L505.21,769.03 L505.88,768.54 L506.88,766.86 L507.89,765.52 L508.89,766.03 L509.9,763.51 L510.9,761 L511.57,760.17 L512.57,762.68 L513.58,764.85 L514.58,766.86 L515.59,768.87 L516.59,769.87 L517.59,768.2 L518.6,770.54 L519.6,767.7 L520.61,771.05 L521.61,769.37 L522.62,772.72 L523.62,773.22 L524.29,768.54 L524.96,759.33 L525.63,764.35 L526.3,762.68 L526.97,761 L527.64,766.03 L528.31,769.37 L528.97,771.55 L529.64,767.7 L530.65,769.37 L531.65,768.54 L532.32,769.06 L532.99,769.37 L533.66,769.14 L534.33,768.87 L535.33,771.05 L536.34,769.37 L537.34,768.54 L538.35,769.37 L539.35,766.86 L540.36,764.35 L541.36,765.19 L542.36,761.84 L543.37,759.83 L544.04,770.21 L545.04,768.54 L546.05,766.86 L547.05,765.52 L548.05,763.85 L549.06,764.35 L550.06,762.68 L551.07,763.18 L552.07,759.33 L553.08,759.83 L554.08,758.83 L555.08,761.51 L556.09,762.18 L557.09,763.18 L558.1,762.68 L559.1,764.35 L559.77,750.13 L560.44,744.77 L561.44,745.94 L562.11,744.77 L563.12,748.79 L564.12,750.96 L565.13,749.79 L566.13,752.64 L567.13,751.46 L568.14,754.31 L569.14,755.98 L570.15,754.31 L571.15,755.15" fill="none" stroke="#fb7134" stroke-width="1.1" stroke-linejoin="round"/>
<line x1="0" y1="975.1" x2="591" y2="975.1" stroke="#a0a0a0" stroke-width="1.4"/>
<line x1="590.5" y1="0" x2="590.5" y2="975.6" stroke="#7a7a7a" stroke-width="1.2"/>
<line x1="110.1" y1="975" x2="110.1" y2="980" stroke="#7a7a7a" stroke-width="1.2"/>
<text class="yr" x="110.1" y="995.6" text-anchor="middle" textLength="30.6" lengthAdjust="spacingAndGlyphs">2018</text>
<line x1="224.3" y1="975" x2="224.3" y2="980" stroke="#7a7a7a" stroke-width="1.2"/>
<text class="yr" x="224.3" y="995.6" text-anchor="middle" textLength="30.6" lengthAdjust="spacingAndGlyphs">2020</text>
<line x1="338.6" y1="975" x2="338.6" y2="980" stroke="#7a7a7a" stroke-width="1.2"/>
<text class="yr" x="338.6" y="995.6" text-anchor="middle" textLength="30.6" lengthAdjust="spacingAndGlyphs">2022</text>
<line x1="452.9" y1="975" x2="452.9" y2="980" stroke="#7a7a7a" stroke-width="1.2"/>
<text class="yr" x="452.9" y="995.6" text-anchor="middle" textLength="30.6" lengthAdjust="spacingAndGlyphs">2024</text>
<line x1="567.1" y1="975" x2="567.1" y2="980" stroke="#7a7a7a" stroke-width="1.2"/>
<text class="yr" x="567.1" y="995.6" text-anchor="middle" textLength="30.6" lengthAdjust="spacingAndGlyphs">2026</text>
<path d="M591,64 L594.2,66 L591,68 Z" fill="#666"/>
<text class="al" x="599.5" y="68.7">3.00%</text>
<path d="M591,174 L594.2,176 L591,178 Z" fill="#666"/>
<text class="al" x="599.5" y="178.7">2.00%</text>
<path d="M591,335.3 L594.2,337.3 L591,339.3 Z" fill="#666"/>
<text class="al" x="599.5" y="340">10.00%</text>
<path d="M591,381 L594.2,383 L591,385 Z" fill="#666"/>
<text class="al" x="599.5" y="385.7">8.00%</text>
<path d="M591,408.3 L594.2,410.3 L591,412.3 Z" fill="#666"/>
<text class="al" x="599.5" y="413">7.00%</text>
<path d="M591,477.2 L594.2,479.2 L591,481.2 Z" fill="#666"/>
<text class="al" x="599.5" y="481.9">5.00%</text>
<path d="M591,581.8 L594.2,583.8 L591,585.8 Z" fill="#666"/>
<text class="al" x="599.5" y="586.5">3.00%</text>
<path d="M591,648.1 L594.2,650.1 L591,652.1 Z" fill="#666"/>
<text class="al" x="599.5" y="652.8">2.17%</text>
<path d="M591,656.3 L594.2,658.3 L591,660.3 Z" fill="#666"/>
<text class="al" x="599.5" y="661">15.00%</text>
<path d="M591,730.3 L594.2,732.3 L591,734.3 Z" fill="#666"/>
<text class="al" x="599.5" y="735">10.00%</text>
<path d="M591,804.3 L594.2,806.3 L591,808.3 Z" fill="#666"/>
<text class="al" x="599.5" y="809">5.00%</text>
<path d="M591,878.3 L594.2,880.3 L591,882.3 Z" fill="#666"/>
<text class="al" x="599.5" y="883">0.00%</text>
<path d="M591,952.3 L594.2,954.3 L591,956.3 Z" fill="#666"/>
<text class="al" x="599.5" y="957">-5.00%</text>
<rect x="591" y="97" width="126" height="30" fill="#1a8cff"/>
<rect x="591" y="97" width="126" height="1" fill="#0080ff"/><rect x="591" y="126" width="126" height="1" fill="#0080ff"/>
<text class="tag" x="654" y="109.8" textLength="62.5" lengthAdjust="spacingAndGlyphs">Div Yld (Ind)</text>
<text class="tag" x="654" y="120.8" textLength="32.4" lengthAdjust="spacingAndGlyphs">2.53%</text>
<rect x="591" y="430" width="126" height="30" fill="#8c1aff"/>
<rect x="591" y="430" width="126" height="1" fill="#7f00ff"/><rect x="591" y="459" width="126" height="1" fill="#7f00ff"/>
<text class="tag" x="654" y="442.8" textLength="104.2" lengthAdjust="spacingAndGlyphs">Buyback Yield (LTM)</text>
<text class="tag" x="654" y="453.8" textLength="32.4" lengthAdjust="spacingAndGlyphs">5.89%</text>
<rect x="591" y="741" width="126" height="30" fill="#fb8148"/>
<rect x="591" y="741" width="126" height="1" fill="#fa753a"/><rect x="591" y="770" width="126" height="1" fill="#fa753a"/>
<text class="tag" x="654" y="753.8" textLength="67.8" lengthAdjust="spacingAndGlyphs">Shr Yld (LTM)</text>
<text class="tag" x="654" y="764.8" textLength="32.4" lengthAdjust="spacingAndGlyphs">8.38%</text>
<rect x="4.5" y="4.5" width="312.5" height="26" rx="3" fill="#fff" stroke="#e6e6e6" stroke-width="1"/>
<path d="M8,4 H7 a3,3 0 0 0 -3,3 V28 a3,3 0 0 0 3,3 H8 Z" fill="#0080ff"/>
<text class="lgb" x="13.5" y="20.9" textLength="25" lengthAdjust="spacingAndGlyphs">DOX</text>
<text class="lgb" x="49" y="20.9" textLength="92" lengthAdjust="spacingAndGlyphs">Amdocs Limited</text>
<text class="lg" x="151" y="20.9" textLength="107" lengthAdjust="spacingAndGlyphs">Dividend Yield (Ind)</text>
<text class="lgb" x="268.6" y="20.9" textLength="35" lengthAdjust="spacingAndGlyphs">2.53%</text>
<rect x="4.5" y="329.5" width="317.0" height="26" rx="3" fill="#fff" stroke="#e6e6e6" stroke-width="1"/>
<path d="M8,329 H7 a3,3 0 0 0 -3,3 V353 a3,3 0 0 0 3,3 H8 Z" fill="#7f00ff"/>
<text class="lgb" x="13.5" y="345.9" textLength="25" lengthAdjust="spacingAndGlyphs">DOX</text>
<text class="lgb" x="49" y="345.9" textLength="92" lengthAdjust="spacingAndGlyphs">Amdocs Limited</text>
<text class="lg" x="151" y="345.9" textLength="111.5" lengthAdjust="spacingAndGlyphs">Buyback Yield (LTM)</text>
<text class="lgb" x="273.2" y="345.9" textLength="35" lengthAdjust="spacingAndGlyphs">5.89%</text>
<rect x="4.5" y="654.5" width="337.8" height="26" rx="3" fill="#fff" stroke="#e6e6e6" stroke-width="1"/>
<path d="M8,654 H7 a3,3 0 0 0 -3,3 V678 a3,3 0 0 0 3,3 H8 Z" fill="#fb7134"/>
<text class="lgb" x="13.5" y="670.9" textLength="25" lengthAdjust="spacingAndGlyphs">DOX</text>
<text class="lgb" x="49" y="670.9" textLength="92" lengthAdjust="spacingAndGlyphs">Amdocs Limited</text>
<text class="lg" x="151" y="670.9" textLength="132.3" lengthAdjust="spacingAndGlyphs">Shareholder Yield (LTM)</text>
<text class="lgb" x="293.2" y="670.9" textLength="35" lengthAdjust="spacingAndGlyphs">8.38%</text>
</svg></body></html>
